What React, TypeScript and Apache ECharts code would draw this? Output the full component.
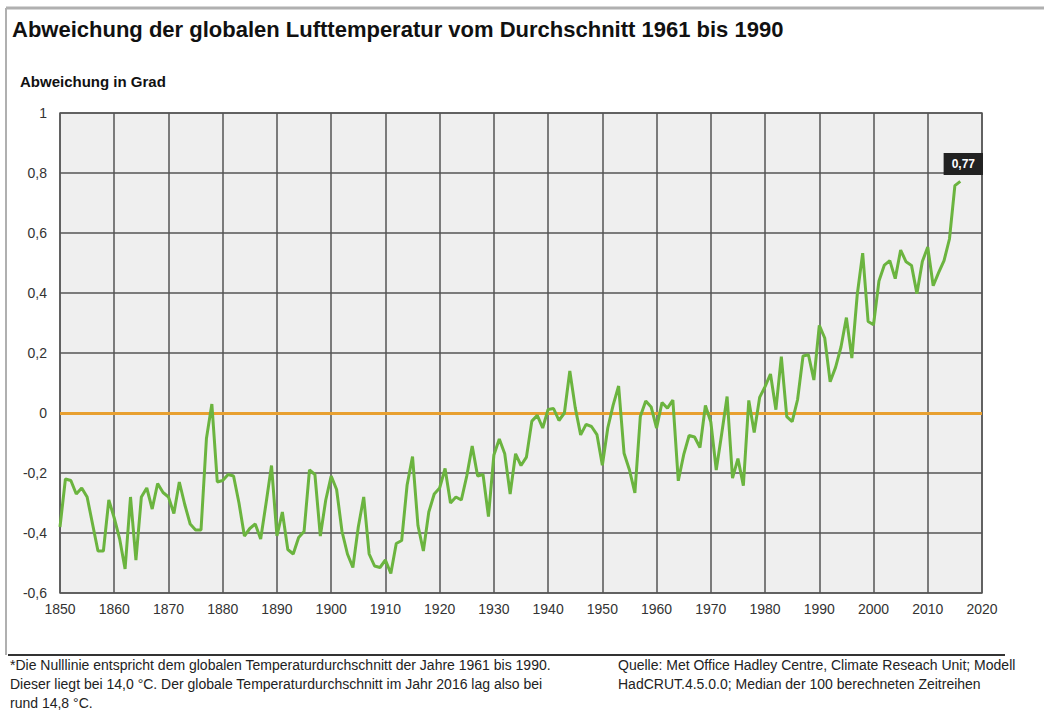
import React, { useEffect, useRef } from "react";
import * as echarts from "echarts";

const startYear = 1850;
const anomalies: number[] = [
  // 1850-1859
  -0.38, -0.22, -0.225, -0.27, -0.25, -0.28, -0.37, -0.46, -0.46, -0.29,
  // 1860-1869
  -0.35, -0.42, -0.52, -0.28, -0.49, -0.28, -0.25, -0.32, -0.235, -0.265,
  // 1870-1879
  -0.28, -0.335, -0.23, -0.305, -0.37, -0.39, -0.39, -0.085, 0.03, -0.23,
  // 1880-1889
  -0.225, -0.205, -0.21, -0.3, -0.41, -0.385, -0.37, -0.42, -0.3, -0.175,
  // 1890-1899
  -0.41, -0.33, -0.455, -0.47, -0.415, -0.395, -0.19, -0.205, -0.41, -0.29,
  // 1900-1909
  -0.21, -0.255, -0.395, -0.47, -0.515, -0.38, -0.28, -0.47, -0.51, -0.515,
  // 1910-1919
  -0.49, -0.535, -0.435, -0.425, -0.24, -0.145, -0.375, -0.46, -0.33, -0.27,
  // 1920-1929
  -0.25, -0.185, -0.3, -0.28, -0.29, -0.21, -0.11, -0.21, -0.205, -0.345,
  // 1930-1939
  -0.14, -0.087, -0.136, -0.27, -0.136, -0.175, -0.147, -0.027, -0.008, -0.05,
  // 1940-1949
  0.012, 0.015, -0.025, 0.0, 0.14, 0.018, -0.073, -0.038, -0.045, -0.072,
  // 1950-1959
  -0.174, -0.05, 0.027, 0.09, -0.134, -0.19, -0.266, -0.012, 0.04, 0.02,
  // 1960-1969
  -0.05, 0.035, 0.016, 0.043, -0.226, -0.139, -0.075, -0.08, -0.115, 0.025,
  // 1970-1979
  -0.03, -0.19, -0.07, 0.055, -0.217, -0.152, -0.242, 0.042, -0.065, 0.052,
  // 1980-1989
  0.088, 0.13, 0.011, 0.188, -0.012, -0.029, 0.045, 0.19, 0.194, 0.11,
  // 1990-1999
  0.292, 0.25, 0.104, 0.152, 0.22, 0.318, 0.183, 0.395, 0.533, 0.305,
  // 2000-2009
  0.294, 0.44, 0.493, 0.508, 0.448, 0.543, 0.504, 0.492, 0.398, 0.505,
  // 2010-2016
  0.553, 0.424, 0.468, 0.508, 0.58, 0.758, 0.772,
];

const yTicks = { min: -0.6, max: 1, interval: 0.2 };
const xTicks = { min: 1850, max: 2020, interval: 10 };
const lastLabel = "0,77";

const titleText = "Abweichung der globalen Lufttemperatur vom Durchschnitt 1961 bis 1990";
const yAxisTitle = "Abweichung in Grad";
const noteLeft = [
  "*Die Nulllinie entspricht dem globalen Temperaturdurchschnitt der Jahre 1961 bis 1990.",
  "Dieser liegt bei 14,0 °C. Der globale Temperaturdurchschnitt im Jahr 2016 lag also bei",
  "rund 14,8 °C.",
];
const noteRight = [
  "Quelle: Met Office Hadley Centre, Climate Reseach Unit; Modell",
  "HadCRUT.4.5.0.0; Median der 100 berechneten Zeitreihen",
];

const FONT = "Arial, 'Liberation Sans', Helvetica, sans-serif";

export default function App() {
  const ref = useRef<HTMLDivElement>(null);
  useEffect(() => {
    if (!ref.current) return;
    const chart = echarts.init(ref.current, undefined, { renderer: "svg" });
    const data = anomalies.map((v, i) => [startYear + i, v]);
    const lastIdx = anomalies.length - 1;

    const fmtNum = (v: number) => {
      const r = Math.round(v * 10) / 10;
      if (r === 0) return "0";
      if (Number.isInteger(r)) return String(r);
      return r.toFixed(1).replace(".", ",");
    };

    const graphics: any[] = [
      { type: "line", shape: { x1: 6, y1: 8, x2: 1044, y2: 8 }, style: { stroke: "#b0b0b0", lineWidth: 3 } },
      { type: "line", shape: { x1: 6, y1: 8, x2: 6, y2: 655 }, style: { stroke: "#b0b0b0", lineWidth: 2 } },
      { type: "line", shape: { x1: 8, y1: 655, x2: 1005, y2: 655 }, style: { stroke: "#333", lineWidth: 2 } },
      {
        type: "text",
        left: 12,
        top: 18,
        style: { text: titleText, fontSize: 22, fontWeight: "bold", fill: "#111", fontFamily: FONT },
      },
      {
        type: "text",
        left: 20,
        top: 74,
        style: { text: yAxisTitle, fontSize: 15, fontWeight: "bold", fill: "#111", fontFamily: FONT },
      },
    ];
    noteLeft.forEach((t, i) => {
      graphics.push({
        type: "text",
        left: 10,
        top: 658 + i * 19,
        style: { text: t, fontSize: 14, fill: "#222", fontFamily: FONT },
      });
    });
    noteRight.forEach((t, i) => {
      graphics.push({
        type: "text",
        left: 618,
        top: 658 + i * 19,
        style: { text: t, fontSize: 14, fill: "#222", fontFamily: FONT },
      });
    });

    chart.setOption({
      animation: false,
      backgroundColor: "#ffffff",
      textStyle: { fontFamily: FONT },
      grid: {
        left: 60,
        right: 62,
        top: 113,
        bottom: 120,
        show: true,
        backgroundColor: "#efefef",
        borderColor: "#666",
        borderWidth: 1.5,
      },
      xAxis: {
        type: "value",
        min: xTicks.min,
        max: xTicks.max,
        interval: xTicks.interval,
        axisLine: { show: true, lineStyle: { color: "#666", width: 1.5 } },
        axisTick: { show: false },
        axisLabel: { color: "#333", fontSize: 14, margin: 9, formatter: (v: number) => String(v) },
        splitLine: { show: true, lineStyle: { color: "#555", width: 1.5 } },
      },
      yAxis: {
        type: "value",
        min: yTicks.min,
        max: yTicks.max,
        interval: yTicks.interval,
        axisLine: { show: false },
        axisTick: { show: false },
        axisLabel: { color: "#333", fontSize: 14, margin: 13, formatter: fmtNum },
        splitLine: { show: true, lineStyle: { color: "#555", width: 1.5 } },
      },
      graphic: graphics,
      series: [
        {
          type: "line",
          data,
          symbol: "none",
          lineStyle: { color: "#6bb43f", width: 3 },
          itemStyle: { color: "#6bb43f" },
          z: 5,
          markLine: {
            silent: true,
            symbol: "none",
            label: { show: false },
            lineStyle: { color: "#e8a030", width: 3, type: "solid" },
            data: [{ yAxis: 0 }],
            z: 4,
          },
          markPoint: {
            silent: true,
            symbol: "circle",
            symbolSize: 1,
            itemStyle: { color: "rgba(0,0,0,0)" },
            data: [
              {
                coord: data[lastIdx],
                label: {
                  show: true,
                  position: "top",
                  distance: 6,
                  offset: [3, 0],
                  formatter: lastLabel,
                  backgroundColor: "#222",
                  color: "#fff",
                  fontWeight: "bold",
                  fontSize: 12,
                  fontFamily: FONT,
                  padding: [5, 8, 5, 8],
                },
              },
            ],
          },
        },
      ],
    });
    return () => chart.dispose();
  }, []);
  return (
    <div
      ref={ref}
      style={{ position: "fixed", left: 0, top: 0, width: 1044, height: 713 }}
    />
  );
}
